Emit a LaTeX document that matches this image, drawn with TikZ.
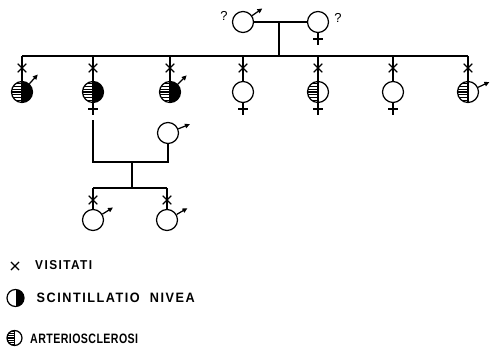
\documentclass[tikz,border=0pt]{standalone}
\usepackage{fontspec}
\usepackage{graphicx}
\setmainfont{Liberation Sans}
\newfontfamily\spacedfont[LetterSpace=12]{Liberation Sans Bold}
\newfontfamily\plainfont[LetterSpace=4]{Liberation Sans Bold}
\usetikzlibrary{shapes.misc,arrows.meta}

% one pixel of the drawing = 1pt, y grows downwards
\newcommand\stripes[3]{% count, step, line width
  \foreach \k in {-#1,...,#1}{
    \draw[line width=#3] ([yshift=\k*#2]path picture bounding box.west)
      -- ([yshift=\k*#2]path picture bounding box.center);}
  \draw[line width=1.2pt] (path picture bounding box.north) -- (path picture bounding box.south);}
\newcommand\blackhalf{%
  \fill[black] (path picture bounding box.north) rectangle (path picture bounding box.south east);}

\tikzset{
  lw/.style={line width=1.25pt},
  ind/.style={circle, draw, lw, minimum size=21pt, inner sep=0pt, fill=white},
  % right half black: scintillatio nivea
  sn/.style={path picture={\blackhalf}},
  % left half striped: arteriosclerosi
  as/.style={path picture={\stripes{4}{2.8pt}{1.3pt}}},
  % both
  asn/.style={path picture={\blackhalf\stripes{4}{2.8pt}{1.3pt}}},
  xmark/.style={cross out, draw, lw, line width=1.1pt, minimum size=7.5pt, inner sep=0pt},
  marrow/.style={lw, -{Triangle[length=5pt,width=4.5pt]}},
  qmark/.style={font=\fontsize{13}{13}\selectfont, inner sep=0pt},
  legtext/.style={anchor=west, inner sep=0pt},
}

% symbol of the sexes, drawn from a named circle
\newcommand\malemark[2]{\draw[marrow] (#1.#2) -- ++(#2:12.5pt);}
\newcommand\femalemark[1]{\draw[lw] (#1.south) -- ++(0,-12pt)
   ([yshift=-6pt]#1.south) ++(-5pt,0) -- ++(10pt,0);}

\begin{document}
\begin{tikzpicture}[x=1pt,y=-1pt]
\useasboundingbox (0,0) rectangle (490,350);

% ---- parents
\node[ind] (fa) at (243,22) {};
\node[ind] (mo) at (318,22) {};
\malemark{fa}{35}
\femalemark{mo}
\node[qmark] (qf) at (224,16) {?};
\node[qmark] (qm) at (338,18) {?};
\coordinate (mid) at (279,22);
\coordinate (sib) at (0,56);
\draw[lw] (fa.east) -- (mo.west);
\draw[lw] (mid) -- (mid |- sib);

% ---- children
\node[ind,asn] (c1) at (22,92) {};
\node[ind,asn] (c2) at (93,92) {};
\node[ind,asn] (c3) at (170,92) {};
\node[ind]     (c4) at (243,92) {};
\node[ind,as]  (c5) at (318,92) {};
\node[ind]     (c6) at (393,92) {};
\node[ind,as]  (c7) at (468,92) {};

\draw[lw] (c1 |- sib) -- (c7 |- sib);
\foreach \c in {c1,c2,c3,c4,c5,c6,c7}{
  \draw[lw] (\c |- sib) -- (\c.north);
  \node[xmark] (x\c) at ([yshift=24pt]\c.center) {};
}
\malemark{c1}{48}
\femalemark{c2}
\malemark{c3}{45}
\femalemark{c4}
\femalemark{c5}
\femalemark{c6}
\malemark{c7}{25}

% ---- marriage of the second daughter
\node[ind] (sp) at (168,133) {};
\malemark{sp}{22}
\coordinate (mar) at (0,162);
\coordinate (d3) at (132,162);
\coordinate (sib3) at (0,188);
\draw[lw] ([yshift=-17pt]c2.south) -- (c2 |- mar) -- (sp |- mar) -- (sp.south);
\draw[lw] (d3) -- (d3 |- sib3);

\node[ind] (g1) at (93,220) {};
\node[ind] (g2) at (167,220) {};
\draw[lw] (g1 |- sib3) -- (g2 |- sib3);
\foreach \c in {g1,g2}{
  \draw[lw] (\c |- sib3) -- (\c.north);
  \node[xmark] (x\c) at ([yshift=20pt]\c.center) {};
}
\malemark{g1}{32}
\malemark{g2}{30}

% ---- legend
\node[xmark, minimum size=7pt] (lx) at (15,266) {};
\node[legtext] (lt1) at (35,265.5) {\resizebox{57pt}{9pt}{\spacedfont VISITATI}};

\node[ind, sn, minimum size=17pt] (ls) at (15.5,298) {};
\node[legtext] (lt2) at (36.5,298) {\resizebox{158pt}{9.5pt}{\spacedfont SCINTILLATIO\ \ NIVEA}};

\node[ind, minimum size=15pt, path picture={\stripes{3}{2.2pt}{1.1pt}}] (la) at (14.5,338) {};
\node[legtext] (lt3) at (30,338.5) {\resizebox{108pt}{9.5pt}{\plainfont ARTERIOSCLEROSI}};
\end{tikzpicture}
\end{document}
